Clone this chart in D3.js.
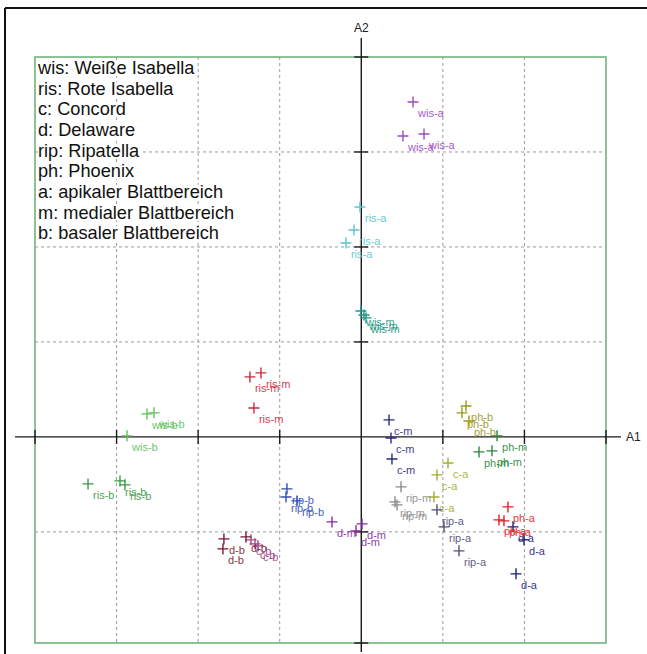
<!DOCTYPE html>
<html>
<head>
<meta charset="utf-8">
<script src="https://cdn.jsdelivr.net/npm/d3@7"></script>
<style>
  html, body { margin: 0; padding: 0; background: #fff; }
  svg { display: block; font-family: Arial, "Liberation Sans", sans-serif; }
</style>
</head>
<body>
<svg id="chart" width="647" height="654"></svg>
<script>
// Sample groups: variety-leafpart, three replicates each
const groups = [
  "wis-a", "ris-a", "wis-m", "ris-m", "wis-b", "ris-b",
  "c-m", "c-a", "c-b", "d-b", "d-m", "d-a",
  "rip-a", "rip-m", "rip-b", "ph-a", "ph-m", "ph-b"
];

// First axis (A1) scores per replicate
const a1Scores = [
  [0.634, 0.511, 0.769],
  [-0.016, -0.089, -0.188],
  [-0.004, 0.033, 0.058],
  [-1.365, -1.230, -1.316],
  [-2.627, -2.541, -2.872],
  [-3.350, -2.958, -2.897],
  [0.340, 0.364, 0.376],
  [1.063, 0.928, 0.891],
  [-1.352, -1.303, -1.266],
  [-1.684, -1.696, -1.414],
  [-0.359, 0.009, -0.065],
  [1.860, 1.995, 1.897],
  [0.928, 1.014, 1.198],
  [0.487, 0.413, 0.438],
  [-0.911, -0.923, -0.788],
  [1.798, 1.688, 1.749],
  [1.664, 1.443, 1.602],
  [1.284, 1.234, 1.320]
];

// Second axis (A2) scores per replicate
const a2Scores = [
  [3.526, 3.168, 3.189],
  [2.421, 2.179, 2.042],
  [1.326, 1.284, 1.253],
  [0.632, 0.674, 0.305],
  [0.242, 0.253, 0.011],
  [-0.495, -0.463, -0.505],
  [0.179, -0.011, -0.232],
  [-0.274, -0.400, -0.632],
  [-1.084, -1.126, -1.147],
  [-1.074, -1.179, -1.053],
  [-0.895, -0.916, -0.989],
  [-0.947, -1.084, -1.442],
  [-0.768, -0.947, -1.200],
  [-0.526, -0.684, -0.716],
  [-0.547, -0.632, -0.674],
  [-0.737, -0.874, -0.884],
  [0.011, -0.158, -0.147],
  [0.326, 0.253, 0.168]
];

// Grid positions along each axis
const a1Grid = [-3, -2, -1, 1, 2];
const a2Grid = [-1, 1, 2, 3];

// Legend lines
const legendLines = [
  "wis: Weiße Isabella",
  "ris: Rote Isabella",
  "c: Concord",
  "d: Delaware",
  "rip: Ripatella",
  "ph: Phoenix",
  "a: apikaler Blattbereich",
  "m: medialer Blattbereich",
  "b: basaler Blattbereich"
];

// Colour for each group
const groupPalette = [
  "#a04ac2", "#5ec6c8", "#1f9786", "#cc2a3c", "#5cc25a", "#3a9a44",
  "#2a2a80", "#a6ae2e", "#a04888", "#7a1a30", "#8a2aa0", "#1c2080",
  "#505078", "#8c8c8c", "#3050b8", "#e81e28", "#2a8a3a", "#9a9a1a"
];

const svg = d3.select("#chart");

const x = d3.scaleLinear().domain([-4, 3]).range([35, 606]);
const y = d3.scaleLinear().domain([-2.17, 4]).range([643, 57]);
const x0 = x(0), y0 = y(0);

// Outer black frame (top and left)
svg.append("line").attr("x1", 5).attr("x2", 647).attr("y1", 8).attr("y2", 8)
  .attr("stroke", "#111").attr("stroke-width", 2);
svg.append("line").attr("x1", 5).attr("x2", 5).attr("y1", 8).attr("y2", 654)
  .attr("stroke", "#111").attr("stroke-width", 2);

// Dashed grid
const grid = svg.append("g").attr("stroke", "#9a9a9a").attr("stroke-width", 1)
  .attr("stroke-dasharray", "3,3");
grid.selectAll("line.v").data(a1Grid).join("line").attr("class", "v")
  .attr("x1", d => x(d)).attr("x2", d => x(d))
  .attr("y1", y.range()[1]).attr("y2", y.range()[0]);
grid.selectAll("line.h").data(a2Grid).join("line").attr("class", "h")
  .attr("y1", d => y(d)).attr("y2", d => y(d))
  .attr("x1", x.range()[0]).attr("x2", x.range()[1]);

// Legend (white behind each line)
const legend = svg.append("g");
legendLines.forEach((t, i) => {
  const ty = 74 + i * 20.65;
  const txt = legend.append("text").attr("x", 38).attr("y", ty)
    .attr("font-size", 18.2).attr("fill", "#111").text(t);
  const bb = txt.node().getBBox();
  legend.insert("rect", "text").attr("x", bb.x).attr("y", bb.y + 3)
    .attr("width", bb.width).attr("height", bb.height - 5).attr("fill", "#fff");
});

// Plot frame
svg.append("rect")
  .attr("x", x.range()[0]).attr("y", y.range()[1])
  .attr("width", x.range()[1] - x.range()[0])
  .attr("height", y.range()[0] - y.range()[1])
  .attr("fill", "none").attr("stroke", "#6fb57a").attr("stroke-width", 1.6);

// Axes through the origin
const axes = svg.append("g").attr("stroke", "#1a1a1a").attr("stroke-width", 1.4);
axes.append("line").attr("x1", 15).attr("x2", 621).attr("y1", y0).attr("y2", y0);
axes.append("line").attr("x1", x0).attr("x2", x0).attr("y1", 38).attr("y2", 652);
const a1Ticks = [x.domain()[0], ...a1Grid, x.domain()[1]];
const a2Ticks = [y.domain()[0], ...a2Grid, y.domain()[1]];
axes.selectAll("line.tx").data(a1Ticks).join("line").attr("class", "tx")
  .attr("x1", d => x(d)).attr("x2", d => x(d)).attr("y1", y0 - 7).attr("y2", y0 + 7);
axes.selectAll("line.ty").data(a2Ticks).join("line").attr("class", "ty")
  .attr("y1", d => y(d)).attr("y2", d => y(d)).attr("x1", x0 - 7).attr("x2", x0 + 7);

svg.append("text").attr("x", 626).attr("y", y0 + 4.5).attr("font-size", 12)
  .attr("fill", "#222").text("A1");
svg.append("text").attr("x", x0).attr("y", 32).attr("font-size", 12)
  .attr("text-anchor", "middle").attr("fill", "#222").text("A2");

// Points: "+" markers with group labels
const points = [];
groups.forEach((g, gi) => {
  a1Scores[gi].forEach((v, k) => {
    points.push({ group: g, a1: v, a2: a2Scores[gi][k], color: groupPalette[gi] });
  });
});

const marks = svg.append("g");
const pt = marks.selectAll("g.pt").data(points).join("g").attr("class", "pt")
  .attr("transform", d => `translate(${x(d.a1)},${y(d.a2)})`);
pt.append("path").attr("d", "M-5.5,0H5.5M0,-5.5V5.5")
  .attr("stroke", d => d.color).attr("stroke-width", 1.4).attr("fill", "none");
pt.append("text").attr("x", 5).attr("y", 15).attr("font-size", 11)
  .attr("fill", d => d.color).attr("opacity", 0.9).text(d => d.group);
</script>
</body>
</html>
